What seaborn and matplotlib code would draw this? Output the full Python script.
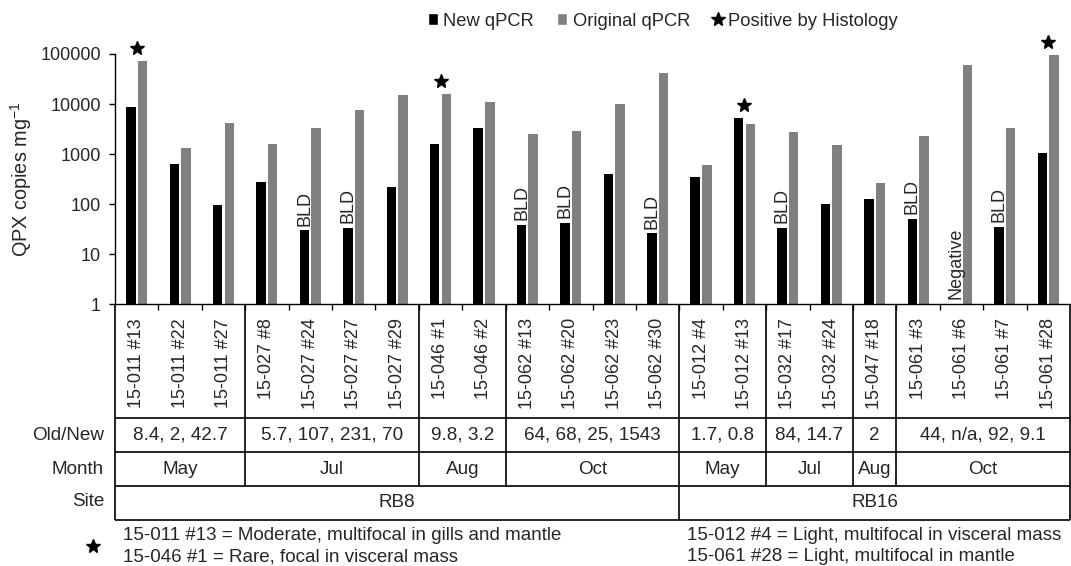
import numpy as np
import pandas as pd
import seaborn as sns
import matplotlib
matplotlib.use("Agg")
from matplotlib import pyplot as plt
from matplotlib import ticker
from matplotlib.patches import Patch
from matplotlib.lines import Line2D

# data
samples = ["15-011 #13", "15-011 #22", "15-011 #27", "15-027 #8", "15-027 #24",
           "15-027 #27", "15-027 #29", "15-046 #1", "15-046 #2", "15-062 #13",
           "15-062 #20", "15-062 #23", "15-062 #30", "15-012 #4", "15-012 #13",
           "15-032 #17", "15-032 #24", "15-047 #18", "15-061 #3", "15-061 #6",
           "15-061 #7", "15-061 #28"]
new_qpcr = [8800, 645, 95, 277, 30, 33, 218, 1610, 3400, 38, 43, 405, 26,
            355, 5240, 33.5, 103, 129, 51, np.nan, 35, 1050]
orig_qpcr = [73000, 1320, 4100, 1560, 3250, 7650, 15200, 15800, 11000, 2550,
             2870, 9950, 41000, 595, 3980, 2800, 1490, 260, 2250, 59000, 3300, 97000]
bld_samples = ["15-027 #24", "15-027 #27", "15-062 #13", "15-062 #20", "15-062 #30",
               "15-032 #17", "15-061 #3", "15-061 #7"]
negative_samples = ["15-061 #6"]
histology_samples = ["15-011 #13", "15-046 #1", "15-012 #13", "15-061 #28"]

months = ["May", "Jul", "Aug", "Oct", "May", "Jul", "Aug", "Oct"]
month_sizes = [3, 4, 2, 4, 2, 2, 1, 4]
old_new = ["8.4, 2, 42.7", "5.7, 107, 231, 70", "9.8, 3.2", "64, 68, 25, 1543",
           "1.7, 0.8", "84, 14.7", "2", "44, n/a, 92, 9.1"]
sites = ["RB8", "RB16"]
site_sizes = [13, 9]
series_names = ["New qPCR", "Original qPCR"]
colors = ["#000000", "#808080"]

notes_left = ["15-011 #13 = Moderate, multifocal in gills and mantle",
              "15-046 #1 = Rare, focal in visceral mass"]
notes_right = ["15-012 #4 = Light, multifocal in visceral mass",
               "15-061 #28 = Light, multifocal in mantle"]

sns.set_style("white")
plt.rcParams['font.family'] = ['Liberation Sans', 'DejaVu Sans']
plt.rcParams['font.size'] = 13
plt.rcParams['mathtext.fontset'] = 'custom'
plt.rcParams['mathtext.rm'] = 'Liberation Sans'
plt.rcParams['mathtext.default'] = 'regular'

df = pd.DataFrame({
    'Sample': samples * 2,
    'Method': [series_names[0]] * len(samples) + [series_names[1]] * len(samples),
    'Value': new_qpcr + orig_qpcr,
})

W, H = 1071, 566
fig = plt.figure(figsize=(W / 100, H / 100), dpi=100)
x0, x1, ytop, ybot = 115, 1070, 54, 304.3
ax = fig.add_axes([x0 / W, 1 - ybot / H, (x1 - x0) / W, (ybot - ytop) / H])

sns.barplot(data=df, x='Sample', y='Value', hue='Method', palette=colors,
            width=0.537, gap=0.19, errorbar=None, legend=False, ax=ax,
            linewidth=0)
ax.set_yscale('log')
ax.set_ylim(1, 100000)
ax.set_xlim(-0.5, len(samples) - 0.5)
ax.yaxis.set_major_locator(ticker.FixedLocator([1, 10, 100, 1000, 10000, 100000]))
ax.yaxis.set_major_formatter(ticker.FuncFormatter(lambda v, p: f"{int(round(v))}"))
ax.yaxis.set_minor_locator(ticker.NullLocator())
ax.set_xticks(range(len(samples)))
ax.set_xticklabels(samples, rotation=90)
ax.set_xticks(np.arange(0.5, len(samples) - 1, 1), minor=True)
ax.tick_params(axis='x', which='major', length=0, pad=10, labelsize=13)
ax.tick_params(axis='x', which='minor', length=4, width=1, direction='out',
               bottom=True, color='black')
ax.tick_params(axis='y', length=4, width=1, direction='out', left=True,
               pad=6, labelsize=13, color='black')
for s in ['top', 'right']:
    ax.spines[s].set_visible(False)
for s in ['left', 'bottom']:
    ax.spines[s].set_color('black')
    ax.spines[s].set_linewidth(1.0)
ax.set_xlabel('')
ax.set_ylabel('QPX copies mg$^{-1}$', fontsize=14.3, labelpad=5)

# annotations above the bars
off = 0.537 / 4
for i, s in enumerate(samples):
    if s in bld_samples:
        ax.text(i - off, new_qpcr[i] * 1.25, 'BLD', rotation=90,
                ha='center', va='bottom', fontsize=13)
    if s in negative_samples:
        ax.text(i - off, 1.3, 'Negative', rotation=90,
                ha='center', va='bottom', fontsize=13)
hx = [samples.index(s) for s in histology_samples]
hy = [np.nanmax([new_qpcr[i], orig_qpcr[i]]) * 1.8 for i in hx]
ax.plot(hx, hy, ls='none', marker='*', ms=10.5, color='black', clip_on=False)

# table under the axis
tb = 520
tfs = 13.6
ax_t = fig.add_axes([x0 / W, 1 - tb / H, (x1 - x0) / W, (tb - ybot) / H])
ax_t.set_xlim(-0.5, len(samples) - 0.5)
ax_t.set_ylim(tb, ybot)
ax_t.axis('off')
row_y = [418.3, 452.3, 485.7, 520]
lw = 1.2
ax_t.hlines(row_y, -0.5, len(samples) - 0.5, color='black', lw=lw, clip_on=False)
ax_t.vlines([-0.5, len(samples) - 0.5], ybot, tb, color='black', lw=lw, clip_on=False)
edges = np.cumsum([0] + month_sizes)
for b in edges[1:-1]:
    ax_t.vlines(b - 0.5, ybot, row_y[2], color='black', lw=lw)
site_edges = np.cumsum([0] + site_sizes)
for b in site_edges[1:-1]:
    ax_t.vlines(b - 0.5, row_y[2], tb, color='black', lw=lw)
for k in range(len(months)):
    c = (edges[k] + edges[k + 1] - 1) / 2
    ax_t.text(c, (row_y[0] + row_y[1]) / 2, old_new[k], ha='center', va='center', fontsize=tfs)
    ax_t.text(c, (row_y[1] + row_y[2]) / 2, months[k], ha='center', va='center', fontsize=tfs)
for k in range(len(sites)):
    c = (site_edges[k] + site_edges[k + 1] - 1) / 2
    ax_t.text(c, (row_y[2] + row_y[3]) / 2, sites[k], ha='center', va='center', fontsize=tfs)

for lab, yy in zip(['Old/New', 'Month', 'Site'], [435.7, 470, 502]):
    fig.text(104 / W, 1 - yy / H, lab, ha='right', va='center', fontsize=tfs)

# footnotes
fig.add_artist(Line2D([93 / W], [1 - 546 / H], marker='*', ms=10.5, color='black',
                      ls='none', transform=fig.transFigure))
for t, yy in zip(notes_left, [535, 556.5]):
    fig.text(123 / W, 1 - yy / H, t, ha='left', va='center', fontsize=13.5)
for t, yy in zip(notes_right, [535, 556.5]):
    fig.text(687 / W, 1 - yy / H, t, ha='left', va='center', fontsize=13.5)

# legend
handles = [Patch(facecolor=colors[0]), Patch(facecolor=colors[1]),
           Line2D([], [], ls='none', marker='*', ms=10.5, color='black')]
fig.legend(handles, series_names + ['Positive by Histology'], loc='center',
           bbox_to_anchor=(663 / W, 1 - 21 / H), ncol=3, frameon=False,
           handlelength=0.55, handleheight=0.6, handletextpad=0.3,
           columnspacing=1.25, fontsize=13.2, borderpad=0)

fig.savefig('out.png', dpi=100)
